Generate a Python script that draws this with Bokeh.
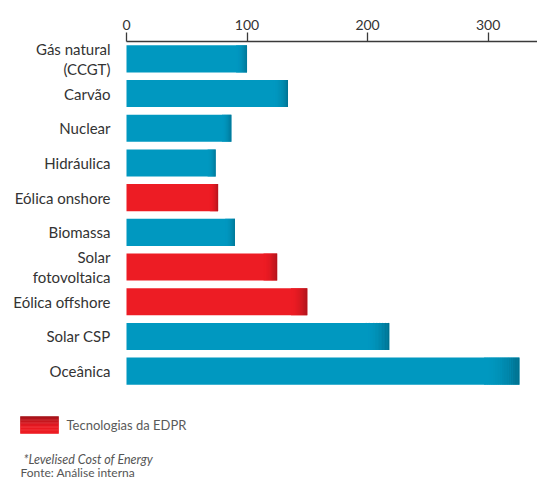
from bokeh.plotting import figure
from bokeh.models import ColumnDataSource, Range1d, FixedTicker
from bokeh.embed import file_html
from bokeh.resources import INLINE
from bokeh.core.properties import value

categories = ["Gás natural\n(CCGT)", "Carvão", "Nuclear", "Hidráulica", "Eólica onshore",
              "Biomassa", "Solar\nfotovoltaica", "Eólica offshore", "Solar CSP", "Oceânica"]
lcoe = [100, 134, 87, 74, 76, 90, 125, 150, 218, 326]
is_edpr = [False, False, False, False, True, False, True, True, False, False]
x_ticks = [0, 100, 200, 300]
legend_text = "Tecnologias da EDPR"
note_text = "*Levelised Cost of Energy"
source_text = "Fonte: Análise interna"

BLUE = (0, 152, 192)
BLUE_DARK = (0, 110, 140)
RED = (237, 28, 36)
RED_DARK = (160, 20, 26)
FONT = "Lato"

W, H = 537, 479
TOP = 41            # frame top (axis line)
ZERO_PX = 126       # pixel of value 0
X_MAX = 341         # value at right edge
ROW_PX = 34.7       # pixel height of one category row

x_min = -ZERO_PX * X_MAX / (W - ZERO_PX)
y_top = -0.5
y_bottom = y_top + (H - TOP) / ROW_PX


def px_x(px):
    return x_min + px * (X_MAX - x_min) / W


def px_y(py):
    return y_top + (py - TOP) / ROW_PX


def hexc(c):
    return "#%02x%02x%02x" % tuple(int(round(v)) for v in c)


def mix(a, b, t):
    return tuple(a[i] + (b[i] - a[i]) * t for i in range(3))


p = figure(width=W, height=H, output_backend="svg", toolbar_location=None,
           x_range=Range1d(x_min, X_MAX), y_range=Range1d(y_bottom, y_top),
           x_axis_location="above", y_axis_type=None,
           min_border_left=0, min_border_right=0, min_border_top=TOP, min_border_bottom=0)
p.outline_line_color = None
p.grid.grid_line_color = None

ypos = list(range(len(categories)))
colors = [hexc(RED if e else BLUE) for e in is_edpr]
src = ColumnDataSource(dict(y=ypos, right=lcoe, color=colors, label=categories))
p.hbar(y="y", left=0, right="right", height=0.78, fill_color="color", line_color=None, source=src)

# darker gradient toward the end of each bar
n = 16
frac = 0.09
gy, gl, gr, gc = [], [], [], []
for yy, v, e in zip(ypos, lcoe, is_edpr):
    base, dark = (RED, RED_DARK) if e else (BLUE, BLUE_DARK)
    for i in range(n):
        l = v * (1 - frac * (1 - i / n))
        r = v * (1 - frac * (1 - (i + 1) / n))
        t = ((i + 0.5) / n) ** 2
        gy.append(yy); gl.append(l); gr.append(r); gc.append(hexc(mix(base, dark, t)))
p.hbar(y=gy, left=gl, right=gr, height=0.78, fill_color=gc, line_color=None)

# category labels
p.text(x=0, y="y", text="label", source=src, x_offset=-16, text_align="right", text_baseline="middle",
       text_font=value(FONT), text_font_size="15px", text_color="#333333", text_line_height=1.1)

xa = p.xaxis[0]
xa.bounds = (0, X_MAX)
xa.ticker = FixedTicker(ticks=x_ticks)
xa.minor_tick_line_color = None
xa.major_tick_out = 9
xa.major_tick_in = 0
xa.major_label_standoff = 3
xa.axis_line_color = "#3a3a3a"
xa.axis_line_width = 1.3
xa.major_tick_line_color = "#3a3a3a"
xa.major_tick_line_width = 1.3
xa.major_label_text_font = FONT
xa.major_label_text_font_size = "14px"
xa.major_label_text_color = "#333333"

# legend swatch (vertical gradient, darker at top) and notes
m = 12
sw_top, sw_bot = 416, 433
sl, sr, st, sb, sc = [], [], [], [], []
for i in range(m):
    t = max(0.0, 1 - (i + 0.5) / (m * 0.65))
    sl.append(px_x(20)); sr.append(px_x(58))
    st.append(px_y(sw_top + (sw_bot - sw_top) * i / m))
    sb.append(px_y(sw_top + (sw_bot - sw_top) * (i + 1) / m))
    sc.append(hexc(mix(RED, RED_DARK, t ** 1.2)))
p.quad(left=sl, right=sr, top=st, bottom=sb, fill_color=sc, line_color=sc, line_width=0.6)
p.text(x=[px_x(66)], y=[px_y(424)], text=[legend_text], text_font=value(FONT), text_font_size="13px",
       text_color="#5a5a5a", text_baseline="middle", text_align="left")
p.text(x=[px_x(23)], y=[px_y(459)], text=[note_text], text_font=value(FONT), text_font_size="12.5px",
       text_font_style="italic", text_color="#555555", text_baseline="middle", text_align="left")
p.text(x=[px_x(20)], y=[px_y(472)], text=[source_text], text_font=value(FONT), text_font_size="12px",
       text_color="#555555", text_baseline="middle", text_align="left")

open("out.html", "w").write(file_html(p, INLINE))
